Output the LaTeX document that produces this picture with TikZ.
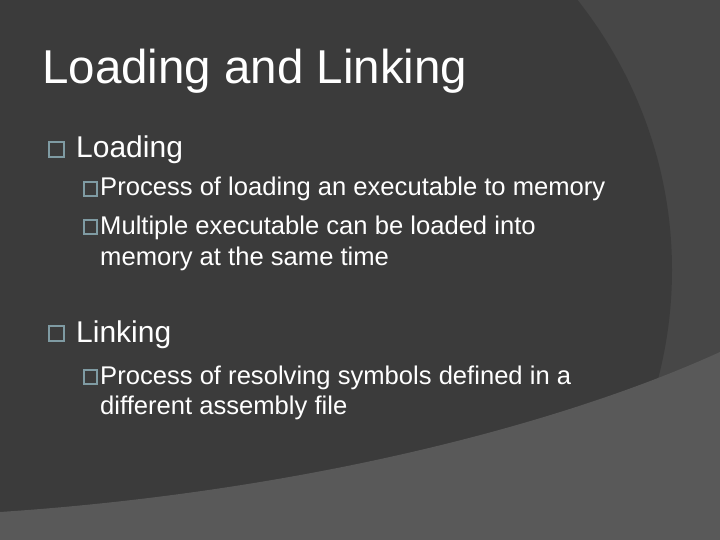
\documentclass[tikz,border=0pt]{standalone}
\usepackage{fontspec}
\setmainfont{Liberation Sans}
\definecolor{outer}{HTML}{474747}
\definecolor{inner}{HTML}{3B3B3B}
\definecolor{band}{HTML}{595959}
\definecolor{bul}{HTML}{7F9BA3}
\begin{document}
\begin{tikzpicture}[x=1pt,y=-1pt,
  txt/.style={anchor=base west,text=white,inner sep=0pt},
  t1/.style={txt,font=\fontsize{47.5}{50}\selectfont},
  t2/.style={txt,font=\fontsize{30}{34}\selectfont},
  t3/.style={txt,font=\fontsize{25.6}{30}\selectfont,align=left},
  box/.style={draw=bul,line width=1.3pt}]
\fill[outer] (0,0) rectangle (720,540);
\useasboundingbox (0,0) rectangle (720,540);
\fill[inner] (200,270) ellipse [x radius=472, y radius=450];
\fill[band] (0,512) .. controls (300,492) and (560,425) .. (720,352) -- (720,540) -- (0,540) -- cycle;
\node[t1] (title) at (42,84) {Loading and Linking};
\draw[box] (49,142) rectangle (64,157);
\node[t2] (l1) at (76,158) {Loading};
\node[t3] (a) at (100,196) {Process of loading an executable to memory};
\draw[box] (84,182) rectangle (97,196);
\node[t3] (b) at (100,234) {Multiple executable can be loaded into};
\draw[box] (84,220) rectangle (97,234);
\node[t3] (b2) at (100,265) {memory at the same time};
\draw[box] (49,326) rectangle (64,341);
\node[t2] (l2) at (76,342) {Linking};
\node[t3] (c) at (100,384) {Process of resolving symbols defined in a};
\draw[box] (84,370) rectangle (97,384);
\node[t3] (c2) at (100,414) {different assembly file};
\end{tikzpicture}
\end{document}
